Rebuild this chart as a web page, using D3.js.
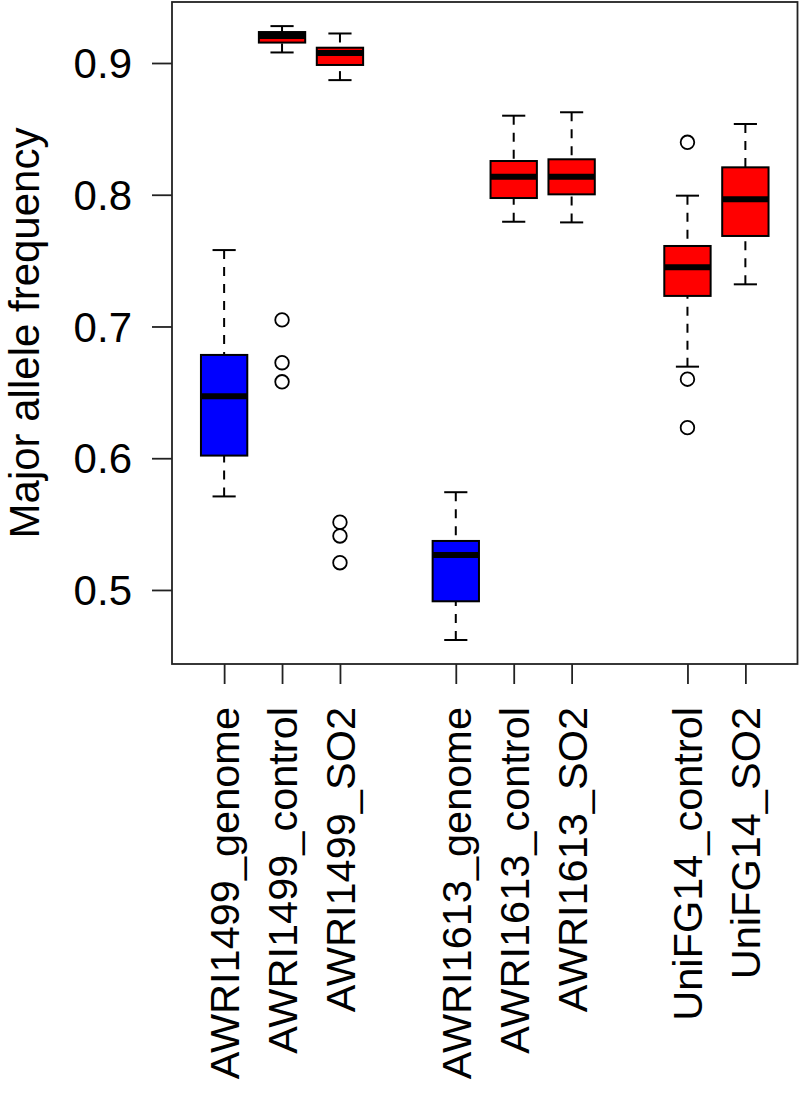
<!DOCTYPE html>
<html>
<head>
<meta charset="utf-8">
<script src="https://cdn.jsdelivr.net/npm/d3@7"></script>
<style>
  body { margin: 0; background: #fff; }
  svg text { font-family: "Liberation Sans", Arial, Helvetica, sans-serif; fill: #000; }
</style>
</head>
<body>
<div id="chart"></div>
<script>
// Data
const groups = ["AWRI1499_genome", "AWRI1499_control", "AWRI1499_SO2",
                "AWRI1613_genome", "AWRI1613_control", "AWRI1613_SO2",
                "UniFG14_control", "UniFG14_SO2"];
const positions = [1, 2, 3, 5, 6, 7, 9, 10];
const fills = ["#0000ff", "#ff0000", "#ff0000", "#0000ff", "#ff0000", "#ff0000", "#ff0000", "#ff0000"];

const whiskerLow  = [0.571, 0.908, 0.887, 0.462, 0.7795, 0.779, 0.6695, 0.732];
const q1          = [0.602, 0.9155, 0.8985, 0.4914, 0.7975, 0.8003, 0.7232, 0.7687];
const medians     = [0.647, 0.9205, 0.9076, 0.5266, 0.8137, 0.8137, 0.745, 0.7965];
const q3          = [0.6784, 0.9235, 0.9116, 0.5372, 0.8256, 0.8269, 0.7611, 0.8208];
const whiskerHigh = [0.758, 0.928, 0.9224, 0.5742, 0.860, 0.8626, 0.7993, 0.8537];
const outliers = [
  [],
  [0.705, 0.6725, 0.658],
  [0.5514, 0.541, 0.5207],
  [], [], [],
  [0.8398, 0.660, 0.6232],
  []
];

const yTicks = [0.5, 0.6, 0.7, 0.8, 0.9];
const yTitle = "Major allele frequency";

const width = 800;
const height = 1095;
const boxwex = 0.8;

const svg = d3.select("#chart").append("svg")
    .attr("width", width)
    .attr("height", height);

const x = d3.scaleLinear()
    .domain([0.1, 10.9])
    .range([172, 797.5]);

const y = d3.scaleLinear()
    .domain([0.4438, 0.9463])
    .range([664, 2]);

const boxes = groups.map((g, i) => ({
  name: g, pos: positions[i], fill: fills[i],
  lo: whiskerLow[i], q1: q1[i], med: medians[i], q3: q3[i], hi: whiskerHigh[i],
  out: outliers[i]
}));

const half = (x(1 + boxwex / 2) - x(1));

// whiskers (dashed)
svg.append("g").selectAll("line.whisker")
  .data(boxes.flatMap(d => [[d.pos, d.lo, d.q1], [d.pos, d.hi, d.q3]]))
  .join("line")
    .attr("x1", d => x(d[0]))
    .attr("x2", d => x(d[0]))
    .attr("y1", d => y(d[1]))
    .attr("y2", d => y(d[2]))
    .attr("stroke", "#000")
    .attr("stroke-width", 2)
    .attr("stroke-dasharray", "9,8");

// staples
svg.append("g").selectAll("line.staple")
  .data(boxes.flatMap(d => [[d.pos, d.lo], [d.pos, d.hi]]))
  .join("line")
    .attr("x1", d => x(d[0]) - half / 2)
    .attr("x2", d => x(d[0]) + half / 2)
    .attr("y1", d => y(d[1]))
    .attr("y2", d => y(d[1]))
    .attr("stroke", "#000")
    .attr("stroke-width", 2);

// boxes
svg.append("g").selectAll("rect")
  .data(boxes)
  .join("rect")
    .attr("x", d => x(d.pos) - half)
    .attr("width", half * 2)
    .attr("y", d => y(d.q3))
    .attr("height", d => y(d.q1) - y(d.q3))
    .attr("fill", d => d.fill)
    .attr("stroke", "#000")
    .attr("stroke-width", 2);

// medians
svg.append("g").selectAll("line")
  .data(boxes)
  .join("line")
    .attr("x1", d => x(d.pos) - half)
    .attr("x2", d => x(d.pos) + half)
    .attr("y1", d => y(d.med))
    .attr("y2", d => y(d.med))
    .attr("stroke", "#000")
    .attr("stroke-width", 6);

// outliers
svg.append("g").selectAll("circle")
  .data(boxes.flatMap(d => d.out.map(v => [d.pos, v])))
  .join("circle")
    .attr("cx", d => x(d[0]))
    .attr("cy", d => y(d[1]))
    .attr("r", 6.8)
    .attr("fill", "none")
    .attr("stroke", "#000")
    .attr("stroke-width", 1.8);

// frame
svg.append("rect")
    .attr("x", x(0.1))
    .attr("y", y(0.9463))
    .attr("width", x(10.9) - x(0.1))
    .attr("height", y(0.4438) - y(0.9463))
    .attr("fill", "none")
    .attr("stroke", "#222")
    .attr("stroke-width", 1.8);

// y axis
const yAxis = d3.axisLeft(y)
    .tickValues(yTicks)
    .tickSize(20)
    .tickPadding(20)
    .tickFormat(d3.format(".1f"));

svg.append("g")
    .attr("transform", `translate(${x(0.1)},0)`)
    .call(yAxis)
    .call(g => g.select(".domain").remove())
    .call(g => g.selectAll(".tick line").attr("stroke", "#222").attr("stroke-width", 1.8))
    .call(g => g.selectAll(".tick text")
        .attr("font-size", 42)
        .attr("font-family", '"Liberation Sans", Arial, sans-serif')
        .attr("dy", "0.35em"));

// x axis ticks
const xAxis = d3.axisBottom(x)
    .tickValues(positions)
    .tickSize(20)
    .tickFormat("");

svg.append("g")
    .attr("transform", `translate(0,${y(0.4438)})`)
    .call(xAxis)
    .call(g => g.select(".domain").remove())
    .call(g => g.selectAll(".tick line").attr("stroke", "#222").attr("stroke-width", 1.8));

// x labels, rotated
svg.append("g").selectAll("text")
  .data(boxes)
  .join("text")
    .attr("transform", d => `translate(${x(d.pos)},707) rotate(-90)`)
    .attr("text-anchor", "end")
    .attr("dy", "0.36em")
    .attr("font-size", 41.5)
    .text(d => d.name);

// y title
svg.append("text")
    .attr("transform", `translate(39,${(y(0.4438) + y(0.9463)) / 2}) rotate(-90)`)
    .attr("text-anchor", "middle")
    .attr("font-size", 42)
    .text(yTitle);
</script>
</body>
</html>
